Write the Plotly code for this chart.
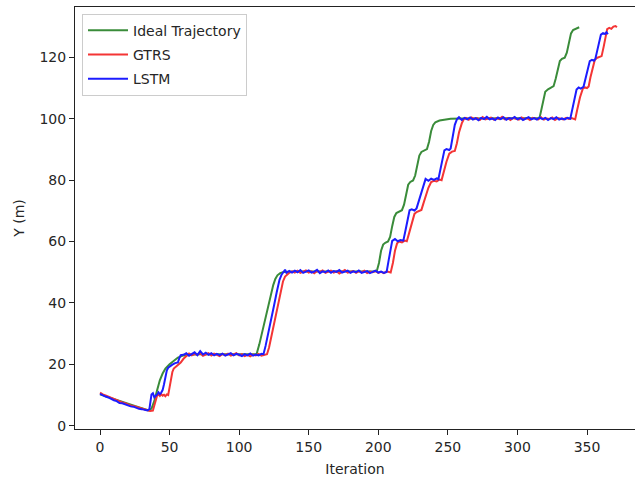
import plotly.graph_objects as go

# ---------------- data ----------------
ideal_x = [0, 5, 10, 15, 20, 25, 30, 35, 37, 39, 41, 43, 45, 47, 50, 53, 56, 60, 65, 70, 80, 90, 100, 112.5,
           114.5, 116.5, 118.5, 120.5, 122.5, 124.5, 126, 127.5, 129.5, 132, 140, 160, 180, 198.9,
           200.5, 202, 203.5, 205, 207, 208.5, 210, 211.5, 213, 215, 217, 218.5, 220, 221.5, 223, 225,
           226.5, 228, 229.5, 231, 233, 235, 236.5, 238, 239.5, 241, 244, 248, 252, 260, 280, 300, 315.8,
           317, 318.5, 320, 322, 324, 326, 327.5, 329, 330.5, 332, 334, 335.5, 337, 338.5, 340, 342, 344.4]
ideal_y = [10.2, 9.4, 8.6, 7.8, 7.1, 6.4, 5.7, 5.0, 5.6, 8.0, 11.5, 14.8, 17.0, 18.6, 20.0, 21.2, 22.2, 22.9, 23.2, 23.3, 23.3, 23.3, 23.3, 23.3,
           26.5, 30.5, 34.5, 38.5, 42.5, 45.8, 47.8, 49.0, 49.7, 50.1, 50.2, 50.2, 50.2, 50.3,
           53.0, 57.0, 59.0, 59.6, 60.0, 61.5, 65.0, 68.0, 69.3, 69.8, 70.2, 72.0, 75.5, 78.5, 79.4, 79.9,
           81.5, 85.0, 88.0, 89.2, 89.7, 90.1, 92.5, 96.0, 98.0, 98.8, 99.4, 99.8, 100.0, 100.1, 100.1, 100.1, 100.2,
           102.5, 106.0, 108.8, 109.6, 110.1, 110.6, 113.0, 116.5, 118.8, 119.5, 119.9, 121.5, 125.0, 127.8, 128.9, 129.4, 129.8]

gtrs_x = [0, 2, 4, 6, 8, 10, 12, 14, 16, 18, 20, 22, 24, 26, 28, 30, 32, 34, 36, 38, 39, 40, 41, 42, 43, 44, 45,
          46, 47, 48, 49, 50, 51, 52, 53, 54, 56, 58, 60, 62, 64, 66, 68, 70, 72, 74, 76, 78, 80, 82, 84, 86,
          88, 90, 92, 94, 96, 98, 100, 102, 104, 106, 108, 110, 112, 114, 116, 118, 120, 121.5, 123.5, 125.5,
          127.5, 129.5, 131.5, 133, 134.5, 136, 138, 140, 142, 144, 146, 148, 150, 152, 154, 156, 158, 160,
          162, 164, 166, 168, 170, 172, 174, 176, 178, 180, 182, 184, 186, 188, 190, 192, 194, 196, 198, 200,
          202, 204, 206, 208.9, 210.5, 212, 213.5, 215, 217, 219, 220.5, 222, 224, 226, 227.5, 229, 231,
          232.5, 234, 236, 238, 240, 242, 244, 245.5, 247, 249, 251, 253, 255, 256.5, 258, 260, 261.5, 263,
          265, 267, 269, 271, 273, 275, 277, 279, 281, 283, 285, 287, 289, 291, 293, 295, 297, 299, 301, 303,
          305, 307, 309, 311, 313, 315, 317, 319, 321, 323, 325, 327, 329, 331, 333, 335, 337, 339, 341.5,
          343, 345, 347, 348.5, 350, 351.2, 352.5, 354, 355.5, 357, 358.5, 360.5, 362, 363.3, 364.5, 366,
          367.5, 369, 370.5, 371.5]
gtrs_y = [10.8, 10.2, 9.9, 9.5, 9.0, 8.7, 8.2, 7.9, 7.6, 7.3, 6.9, 6.6, 6.4, 6.1, 5.8, 5.5, 5.3, 5.0, 4.8, 4.9, 6.5, 8.5, 9.8, 10.2, 9.7, 10.3, 9.8,
          10.1, 9.6, 10.2, 10.0, 12.5, 15.5, 17.5, 18.6, 19.0, 19.8, 20.6, 21.8, 22.8, 23.5, 22.9, 23.4, 23.1, 23.7, 22.8, 23.3, 23.6, 22.9, 23.5, 23.1, 22.7,
          23.4, 23.0, 23.5, 22.8, 23.2, 23.6, 22.9, 23.3, 22.7, 23.1, 22.6, 23.2, 22.9, 23.4, 22.8, 23.1, 23.3, 25.5, 30.0, 34.5,
          39.0, 43.5, 47.0, 48.6, 49.3, 49.8, 50.3, 49.9, 50.5, 49.8, 50.2, 50.6, 49.9, 50.3, 49.7, 50.4, 50.1, 50.6,
          49.8, 50.2, 50.5, 49.9, 50.3, 49.6, 50.2, 50.7, 49.9, 50.1, 50.4, 49.8, 50.3, 50.0, 50.5, 49.7, 50.2, 50.0, 50.4, 49.8,
          50.1, 49.7, 50.3, 49.9, 53.0, 57.0, 59.4, 60.0, 59.7, 60.3, 60.1, 62.5, 66.0, 69.0, 69.6, 69.9, 70.3,
          72.5, 75.0, 77.5, 79.4, 79.8, 79.6, 80.2, 80.0, 83.0, 86.0, 88.6, 89.3, 89.5, 92.0, 95.5, 98.5, 99.9, 100.3,
          99.7, 100.4, 99.9, 100.2, 99.6, 100.5, 99.8, 100.1, 100.4, 99.7, 100.2, 99.9, 100.6, 99.8, 100.2, 99.6, 100.3, 100.0, 99.7, 100.4,
          99.9, 100.2, 99.6, 100.3, 100.0, 99.8, 100.5, 99.7, 100.1, 99.9, 100.4, 99.6, 100.2, 100.0, 99.8, 100.3, 99.9, 100.2, 99.8,
          103.0, 107.0, 109.8, 110.2, 110.0, 110.5, 113.5, 116.5, 119.0, 119.8, 120.0, 120.4, 123.5, 127.0, 129.2, 129.6,
          129.3, 130.0, 130.2, 129.8]

lstm_x = [0, 2, 4, 6, 8, 10, 12, 14, 16, 18, 20, 22, 24, 26, 28, 30, 32, 34, 35.5, 37, 38, 39, 40, 41, 42, 43, 44,
          45, 46, 47, 48, 49, 50, 52, 54, 56, 57, 58, 60, 62, 64, 66, 68, 70, 72, 74, 76, 78, 80, 82, 84, 86,
          88, 90, 92, 94, 96, 98, 100, 102, 104, 106, 108, 110, 112, 114, 116, 117.5, 119, 121, 123, 125, 127,
          129, 130.5, 132, 133, 134, 136, 138, 140, 142, 144, 146, 148, 150, 152, 154, 156, 158, 160, 162, 164,
          166, 168, 170, 172, 174, 176, 178, 180, 182, 184, 186, 188, 190, 192, 194, 196, 198, 200, 202, 204,
          206, 207.5, 209, 210, 212, 214, 216, 218, 219.5, 221, 222.5, 224, 226, 227.5, 229, 231, 233, 234,
          236, 238, 240, 242, 243.2, 244.5, 246, 247.5, 249, 251, 252, 253.5, 255, 256.5, 258, 260, 262, 264,
          266, 268, 270, 272, 274, 276, 278, 280, 282, 284, 286, 288, 290, 292, 294, 296, 298, 300, 302, 304,
          306, 308, 310, 312, 314, 316, 318, 320, 322, 324, 326, 328, 330, 332, 334, 336, 338, 339.5, 341,
          342.5, 344, 345.5, 347.5, 349, 350.5, 352, 353.5, 355, 356, 357.5, 359, 360, 361.5, 363, 364, 365]
lstm_y = [10.4, 9.9, 9.5, 9.2, 8.7, 8.3, 8.0, 7.4, 7.3, 6.9, 6.7, 6.3, 6.2, 5.8, 5.5, 5.4, 5.1, 5.0, 5.4, 10.2, 10.6, 9.3, 9.7, 10.1, 10.9, 10.3, 10.8,
          11.6, 13.5, 16.2, 18.0, 18.9, 19.3, 19.9, 20.4, 20.6, 22.0, 23.0, 23.1, 23.6, 22.8, 23.5, 23.9, 23.0, 24.3, 23.2, 23.8, 23.1, 23.6, 22.9, 23.4, 23.0,
          23.5, 22.8, 23.3, 23.6, 22.9, 23.4, 23.1, 22.7, 23.3, 22.9, 23.5, 22.8, 23.2, 22.9, 23.4, 23.3, 26.0, 30.0, 34.5, 39.0, 43.5,
          47.5, 49.2, 50.3, 50.8, 49.8, 50.4, 49.9, 50.5, 50.0, 50.7, 49.8, 50.3, 50.6, 49.9, 50.2, 50.8, 49.7, 50.3, 50.0, 50.6,
          49.8, 50.4, 50.1, 50.7, 49.9, 50.2, 50.5, 49.8, 50.3, 50.0, 50.6, 49.8, 50.2, 50.4, 49.7, 50.1, 50.5, 49.9, 50.2, 49.8,
          50.1, 54.0, 58.5, 60.2, 60.8, 60.1, 60.5, 60.3, 63.5, 67.5, 70.2, 70.5, 70.1, 70.8, 73.0, 76.0, 79.5, 80.4,
          79.8, 80.5, 80.1, 80.6, 80.3, 83.5, 87.0, 89.7, 90.1, 89.8, 90.3, 94.0, 98.0, 99.8, 100.5, 99.6, 100.3, 99.8,
          100.4, 99.7, 100.2, 99.5, 100.3, 99.9, 100.6, 99.8, 100.1, 99.6, 100.4, 99.9, 100.5, 99.7, 100.2, 100.0, 100.6, 99.8, 100.3, 99.6,
          100.1, 100.5, 99.8, 100.2, 99.7, 100.4, 99.9, 100.3, 99.6, 100.2, 99.9, 100.5, 99.7, 100.1, 99.8, 100.3, 100.0, 103.0, 106.5,
          109.5, 110.2, 109.8, 110.4, 113.5, 116.5, 118.8, 119.2, 118.9, 119.5, 122.5, 126.0, 127.4, 127.9, 127.6, 128.2, 127.5]

series_names = ["Ideal Trajectory", "GTRS", "LSTM"]
series_colors = ["#3a8c3a", "#f43535", "#1c1cff"]

x_ticks = [0, 50, 100, 150, 200, 250, 300, 350]
y_ticks = [0, 20, 40, 60, 80, 100, 120]

# ---------------- figure ----------------
fig = go.Figure()
for name, xs, ys, col in zip(series_names,
                             [ideal_x, gtrs_x, lstm_x],
                             [ideal_y, gtrs_y, lstm_y],
                             series_colors):
    fig.add_trace(go.Scatter(x=xs, y=ys, mode="lines", name=name, legendgroup=name,
                             line=dict(color=col, width=2)))

font_family = "DejaVu Sans"
axis_common = dict(showgrid=False, zeroline=False, showline=True, linecolor="#222222", linewidth=1,
                   ticks="outside", ticklen=5, tickwidth=1, tickcolor="#222222",
                   tickfont=dict(family=font_family, size=14, color="#262626"))

fig.update_layout(
    width=635, height=480,
    margin=dict(l=75, r=0, t=7, b=51),
    paper_bgcolor="white", plot_bgcolor="white",
    font=dict(family=font_family, size=14, color="#262626"),
    xaxis=dict(range=[-17.97, 384.5], tickvals=x_ticks, mirror=True,
               title=dict(text="Iteration", font=dict(family=font_family, size=14), standoff=10),
               **axis_common),
    yaxis=dict(range=[-1.07, 136.4], tickvals=y_ticks, mirror=False,
               title=dict(text="Y (m)", font=dict(family=font_family, size=14), standoff=11),
               **axis_common),
    legend=dict(x=0.0125, y=0.984, xanchor="left", yanchor="top",
                bgcolor="rgba(255,255,255,0.8)", bordercolor="#cccccc", borderwidth=1,
                font=dict(family=font_family, size=14, color="#262626"),
                tracegroupgap=3, itemwidth=40),
    showlegend=True,
)

fig.write_html("out.html")
